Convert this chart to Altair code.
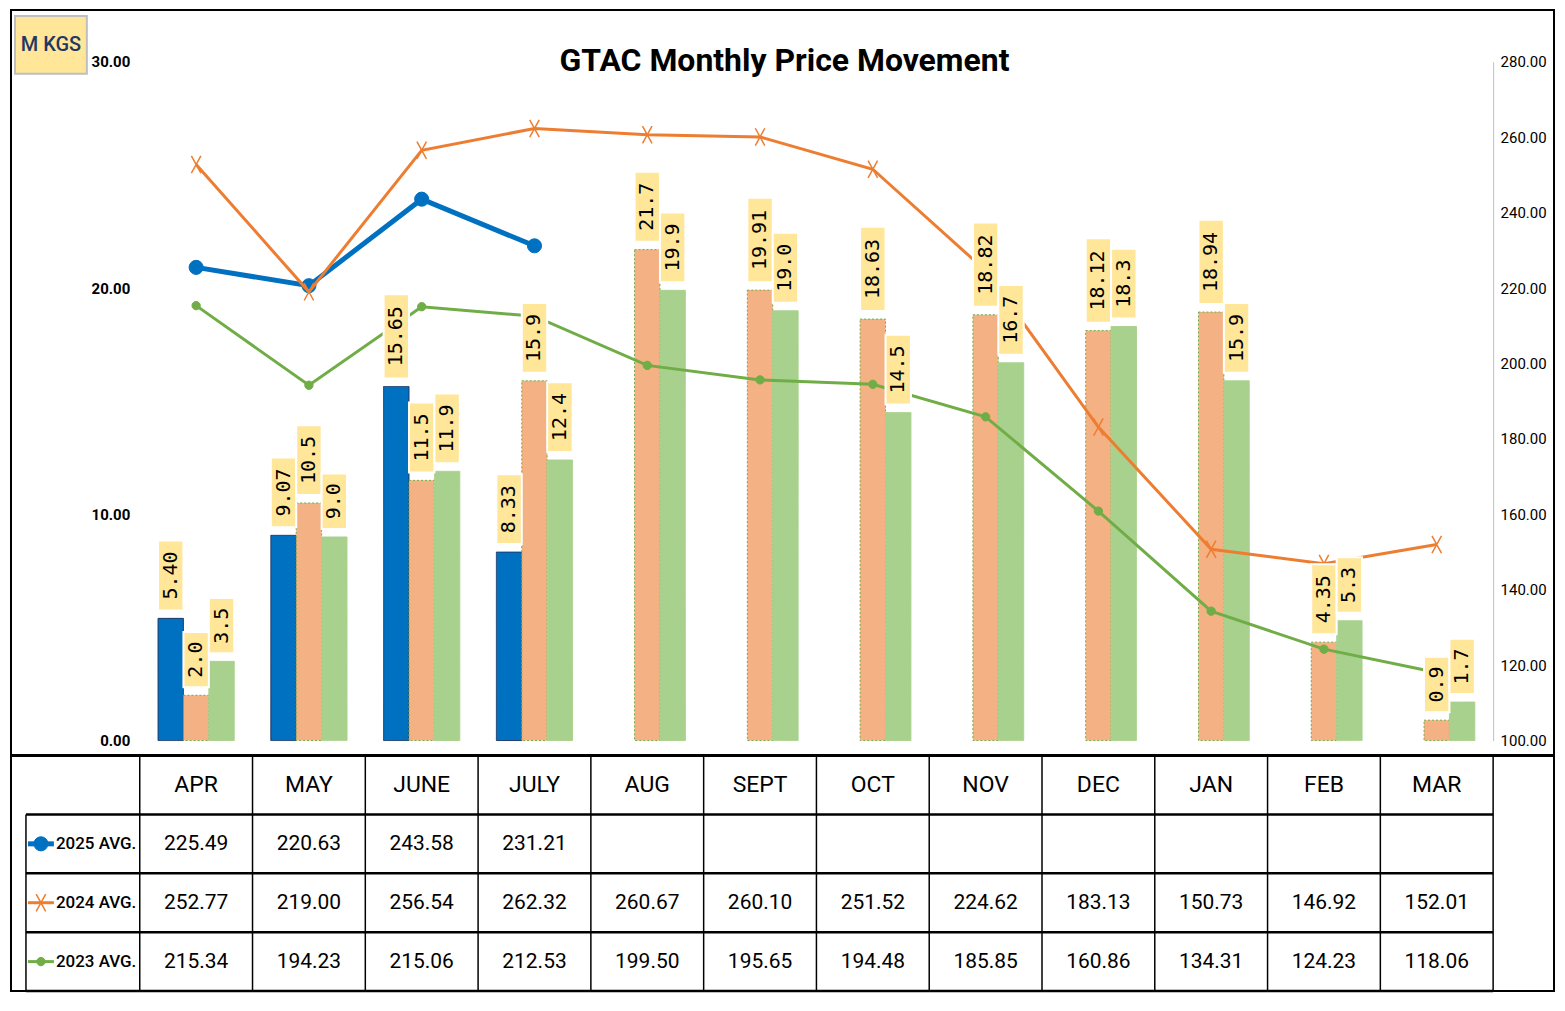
import altair as alt
import pandas as pd

# ---------------- data ----------------
months = ["APR", "MAY", "JUNE", "JULY", "AUG", "SEPT", "OCT", "NOV", "DEC", "JAN", "FEB", "MAR"]
series = ["2025", "2024", "2023"]
row_names = ["2025 AVG.", "2024 AVG.", "2023 AVG."]

vol_2025 = [5.40, 9.07, 15.65, 8.33]
vol_2024 = [2.0, 10.5, 11.5, 15.9, 21.7, 19.91, 18.63, 18.82, 18.12, 18.94, 4.35, 0.9]
vol_2023 = [3.5, 9.0, 11.9, 12.4, 19.9, 19.0, 14.5, 16.7, 18.3, 15.9, 5.3, 1.7]

lbl_2025 = ["5.40", "9.07", "15.65", "8.33"]
lbl_2024 = ["2.0", "10.5", "11.5", "15.9", "21.7", "19.91", "18.63", "18.82", "18.12", "18.94", "4.35", "0.9"]
lbl_2023 = ["3.5", "9.0", "11.9", "12.4", "19.9", "19.0", "14.5", "16.7", "18.3", "15.9", "5.3", "1.7"]

price_2025 = [225.49, 220.63, 243.58, 231.21]
price_2024 = [252.77, 219.00, 256.54, 262.32, 260.67, 260.10, 251.52, 224.62, 183.13, 150.73, 146.92, 152.01]
price_2023 = [215.34, 194.23, 215.06, 212.53, 199.50, 195.65, 194.48, 185.85, 160.86, 134.31, 124.23, 118.06]

vol_ticks = [0, 10, 20, 30]
price_ticks = [100, 120, 140, 160, 180, 200, 220, 240, 260, 280]

# ---------------- layout / style ----------------
W, H = 1356, 680
LEFT, TOP, RIGHT = 130, 53, 62
T0, ROWH = 695, 59
TB = T0 + 4 * ROWH
PXU = H / 30.0
GAP, CHAR, PADB = 8, 14.5, 12

FN = "Roboto, 'Liberation Sans', sans-serif"
MONO = "DejaVu Sans Mono"

bar_fill = ["#0070C0", "#F4B183", "#A9D18E"]
bar_edge = ["#1F3864", "#70AD47", "#A9D18E"]
line_col = ["#0070C0", "#ED7D31", "#70AD47"]
XPATH = "M-0.55,-1L0.55,1M0.55,-1L-0.55,1"

# ---------------- tables ----------------
rows = []
for s, vals, labs in zip(series, [vol_2025, vol_2024, vol_2023], [lbl_2025, lbl_2024, lbl_2023]):
    for m, v, l in zip(months, vals, labs):
        rows.append({"month": m, "series": s, "vol": v, "label": l})
vol_df = pd.DataFrame(rows)

prows = []
for i, (s, vals) in enumerate(zip(series, [price_2025, price_2024, price_2023])):
    for m, p in zip(months, vals):
        prows.append({"month": m, "series": s, "price": p, "r": 1.5 + i})
price_df = pd.DataFrame(prows)

one = pd.DataFrame({"a": [0]})

xscale = alt.Scale(domain=months, paddingInner=0, paddingOuter=0)


def X(axis=None, **kw):
    return alt.X("month:N", sort=months, scale=xscale, axis=axis, **kw)


XO = alt.XOffset("series:N", sort=series,
                 scale=alt.Scale(domain=series, paddingInner=0, paddingOuter=0.72))
vol_scale = alt.Scale(domain=[0, 30], nice=False, zero=True)
price_scale = alt.Scale(domain=[100, 280], nice=False, zero=False)
tab_scale = alt.Scale(domain=[0, 4], range=[T0, TB], nice=False, zero=False)

# ---------------- bars ----------------
bars = alt.Chart(vol_df).mark_bar(strokeWidth=1).encode(
    x=X(alt.Axis(labels=False, ticks=False, title=None, domainColor="#D9D9D9",
                 domainWidth=2, grid=False)),
    xOffset=XO,
    y=alt.Y("vol:Q", scale=vol_scale,
            axis=alt.Axis(orient="left", values=vol_ticks, format=".2f", title=None,
                          ticks=False, domain=False, grid=False, labelFont=FN,
                          labelFontSize=15, labelFontWeight="bold", labelColor="black",
                          labelPadding=10)),
    fill=alt.Fill("series:N", scale=alt.Scale(domain=series, range=bar_fill), legend=None),
    stroke=alt.Stroke("series:N", scale=alt.Scale(domain=series, range=bar_edge), legend=None),
    strokeDash=alt.StrokeDash("series:N",
                              scale=alt.Scale(domain=series, range=[[1, 0], [2, 2], [1, 0]]),
                              legend=None),
)

lab_base = alt.Chart(vol_df).transform_calculate(
    b0=f"datum.vol + {GAP}/{PXU}",
    b1=f"datum.vol + ({GAP} + {CHAR}*length(datum.label) + {PADB})/{PXU}",
    bm=f"datum.vol + ({GAP} + ({CHAR}*length(datum.label) + {PADB})/2)/{PXU}",
)
boxes = lab_base.mark_bar(color="#FFE699", stroke="white", strokeWidth=2).encode(
    x=X(), xOffset=XO,
    y=alt.Y("b0:Q", scale=vol_scale, axis=None), y2="b1:Q",
)
box_text = lab_base.mark_text(angle=270, font=MONO, fontSize=20, color="black",
                              align="center", baseline="middle").encode(
    x=X(), xOffset=XO,
    y=alt.Y("bm:Q", scale=vol_scale, axis=None),
    text="label:N",
)

# ---------------- price lines ----------------
price_layers = []
legend_layers = []
specs = [
    ("2025", line_col[0], 5, "circle", 200, 1),
    ("2024", line_col[1], 3, XPATH, 300, 1.5),
    ("2023", line_col[2], 3, "circle", 70, 1),
]
for k, (s, col, lw, shp, sz, sw) in enumerate(specs):
    base = alt.Chart(price_df).transform_filter(alt.datum.series == s)
    if k == 0:
        yax = alt.Axis(orient="right", values=price_ticks, format=".2f", title=None,
                       ticks=False, domainColor="#BFBFBF", domainWidth=1, grid=False,
                       labelFont=FN, labelFontSize=15, labelColor="black", labelPadding=7)
    else:
        yax = None
    price_layers.append(base.mark_line(color=col, strokeWidth=lw).encode(
        x=X(), y=alt.Y("price:Q", scale=price_scale, axis=yax)))
    price_layers.append(base.mark_point(shape=shp, size=sz, filled=True, fill=col, stroke=col,
                                        strokeWidth=sw, opacity=1).encode(
        x=X(), y=alt.Y("price:Q", scale=price_scale, axis=None)))
    # legend symbol in table
    ldf = pd.DataFrame({"r": [1.5 + k]})
    legend_layers.append(alt.Chart(ldf).mark_rule(color=col, strokeWidth=lw).encode(
        x=alt.value(-112), x2=alt.value(-86), y=alt.Y("r:Q", scale=tab_scale, axis=None)))
    legend_layers.append(alt.Chart(ldf).mark_point(shape=shp, size=sz, filled=True, fill=col,
                                                    stroke=col, strokeWidth=sw, opacity=1).encode(
        x=alt.value(-99), y=alt.Y("r:Q", scale=tab_scale, axis=None)))

# ---------------- data table ----------------
hdr = alt.Chart(pd.DataFrame({"month": months, "r": [0.5] * len(months)})).mark_text(
    font=FN, fontSize=23, color="black").encode(
    x=X(), y=alt.Y("r:Q", scale=tab_scale, axis=None), text="month:N")
vals = alt.Chart(price_df).mark_text(font=FN, fontSize=21, color="black").encode(
    x=X(), y=alt.Y("r:Q", scale=tab_scale, axis=None), text=alt.Text("price:Q", format=".2f"))
rlab = alt.Chart(pd.DataFrame({"name": row_names, "r": [1.5, 2.5, 3.5]})).mark_text(
    font=FN, fontSize=17, fontWeight=500, color="black", align="left").encode(
    x=alt.value(-84), y=alt.Y("r:Q", scale=tab_scale, axis=None), text="name:N")

vlines = alt.Chart(pd.DataFrame({"month": months, "r0": [0] * 12, "r1": [4] * 12})).mark_rule(
    color="black", strokeWidth=1.5).encode(
    x=X(bandPosition=0), y=alt.Y("r0:Q", scale=tab_scale, axis=None), y2="r1:Q")
vend = alt.Chart(pd.DataFrame({"r0": [0], "r1": [4]})).mark_rule(color="black", strokeWidth=1.5).encode(
    x=alt.value(W), y=alt.Y("r0:Q", scale=tab_scale, axis=None), y2="r1:Q")
vleft = alt.Chart(pd.DataFrame({"r0": [1], "r1": [4]})).mark_rule(color="black", strokeWidth=1.5).encode(
    x=alt.value(-114), y=alt.Y("r0:Q", scale=tab_scale, axis=None), y2="r1:Q")
hlines = alt.Chart(pd.DataFrame({"r": [1, 2, 3, 4]})).mark_rule(color="black", strokeWidth=2.5).encode(
    x=alt.value(-114), x2=alt.value(W), y=alt.Y("r:Q", scale=tab_scale, axis=None))
sep = alt.Chart(pd.DataFrame({"r": [0]})).mark_rule(color="black", strokeWidth=3).encode(
    x=alt.value(-LEFT), x2=alt.value(W + RIGHT), y=alt.Y("r:Q", scale=tab_scale, axis=None))

# ---------------- annotations ----------------
border = alt.Chart(one).mark_rect(fill="white", fillOpacity=0, stroke="black", strokeWidth=2).encode(
    x=alt.value(-LEFT + 1), x2=alt.value(W + RIGHT - 1), y=alt.value(-TOP + 1), y2=alt.value(TB))
mbox = alt.Chart(one).mark_rect(fill="#FFE699", stroke="#BFBFBF", strokeWidth=2).encode(
    x=alt.value(-125), x2=alt.value(-53), y=alt.value(-46), y2=alt.value(12))
mtext = alt.Chart(one).mark_text(text="M KGS", font=FN, fontSize=20, fontWeight=500,
                                 color="#1F3864", align="center", baseline="middle").encode(
    x=alt.value(-89), y=alt.value(-17))
title = alt.Chart(one).mark_text(text="GTAC Monthly Price Movement", font=FN, fontSize=32,
                                 fontWeight="bold", color="black", align="center",
                                 baseline="middle").encode(
    x=alt.value(646), y=alt.value(-1))

chart = alt.layer(
    border, bars, *price_layers, boxes, box_text,
    vlines, vend, vleft, hlines, sep, hdr, vals, rlab, *legend_layers,
    mbox, mtext, title,
).resolve_scale(y="independent").properties(
    width=W, height=H, padding=0, background="white"
).configure_view(stroke=None)

chart.save("out.html", embed_options={"renderer": "svg", "actions": False})
